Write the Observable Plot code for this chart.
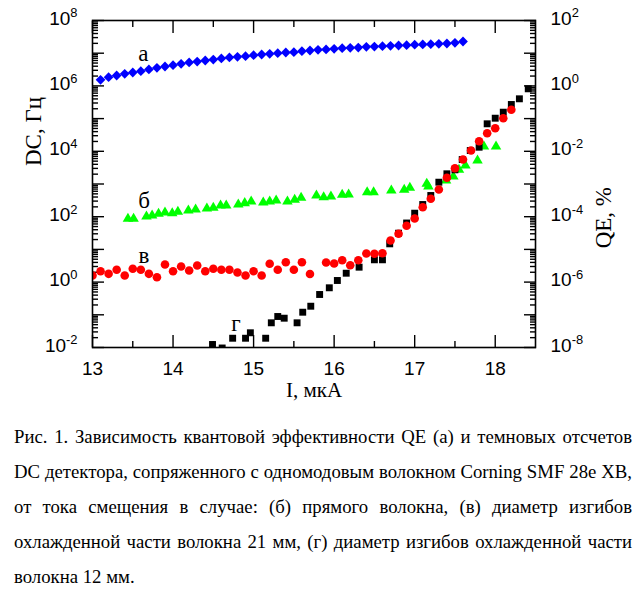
<!DOCTYPE html>
<html><head><meta charset="utf-8">
<script src="https://cdn.jsdelivr.net/npm/d3@7"></script>
<script src="https://cdn.jsdelivr.net/npm/@observablehq/plot@0.6"></script>
<style>
body{margin:0;background:#fff;}
#chart svg{display:block;}
#cap{width:618px;margin:14px 0 0 14px;font-family:"Liberation Serif","Times New Roman",serif;font-size:19.5px;line-height:35px;color:#000;}
#cap div{text-align:justify;text-align-last:justify;white-space:nowrap;}
#cap div.last{text-align-last:left;}
</style></head><body>
<div id="chart"></div>
<div id="cap"></div>
<script>
// (а) QE, % — blue diamonds
const blueI = [13.1,13.2,13.3,13.4,13.5,13.6,13.7,13.8,13.9,14.0,14.1,14.2,14.3,14.4,14.5,14.6,14.7,14.8,14.9,15.0,15.1,15.2,15.3,15.4,15.5,15.6,15.7,15.8,15.9,16.0,16.1,16.2,16.3,16.4,16.5,16.6,16.7,16.8,16.9,17.0,17.1,17.2,17.3,17.4,17.5,17.6];
const blueQE = [1.54,1.85,2.08,2.34,2.57,2.82,3.18,3.58,3.92,4.30,4.74,5.20,5.57,5.98,6.41,6.89,7.40,7.76,8.09,8.69,9.12,9.59,10.0,10.5,10.7,11.5,12.1,12.7,13.0,13.6,14.2,14.6,14.9,15.7,16.0,16.4,16.8,17.2,17.6,18.2,18.5,18.8,19.4,19.8,20.8,22.8];
// (б) straight fibre — green triangles, DC Hz
const greenI = [13.44,13.51,13.67,13.74,13.82,13.90,13.99,14.06,14.19,14.28,14.42,14.50,14.59,14.66,14.81,14.89,14.97,15.12,15.20,15.28,15.42,15.51,15.59,15.78,15.87,15.96,16.10,16.18,16.41,16.49,16.71,16.87,16.94,17.15,17.17,17.39,17.48,17.55,17.63,17.78,17.86,18.01];
const greenDC = [86,86,101,109,123,134,128,141,155,166,178,187,220,220,236,259,292,272,292,313,292,329,378,445,394,415,468,478,561,561,632,665,766,1014,839,1279,1694,2716,3681,5236,14030,14030];
// (в) bend 21 mm — red circles, DC Hz
const redI = [13.0,13.1,13.2,13.3,13.4,13.5,13.6,13.7,13.8,13.9,14.0,14.1,14.2,14.3,14.4,14.5,14.6,14.7,14.8,14.9,15.0,15.1,15.2,15.3,15.4,15.5,15.6,15.7,15.9,16.0,16.1,16.2,16.3,16.4,16.5,16.6,16.7,16.8,16.9,17.0,17.1,17.2,17.3,17.4,17.5,17.6,17.7,17.8,17.9,18.0,18.1,18.2];
const redDC = [1.59,2.15,1.79,2.38,1.59,2.55,2.38,1.79,1.41,3.45,2.15,3.00,2.26,3.22,2.15,2.55,2.38,2.38,1.97,1.59,2.15,1.59,3.63,2.38,4.06,2.38,4.06,1.77,3.97,3.71,4.68,3.29,4.68,7.50,7.33,7.65,18.7,30.0,52.7,88,195,355,679,1549,3041,5610,10570,20370,35800,50800,102800,185800];
// (г) bend 12 mm — black squares, DC Hz
const blackI = [14.49,14.61,14.74,14.90,14.96,15.15,15.22,15.30,15.38,15.54,15.61,15.71,15.82,15.94,16.04,16.15,16.31,16.50,16.60,16.69,16.80,16.90,17.00,17.10,17.20,17.30,17.40,17.50,17.59,17.69,17.80,17.90,18.00,18.10,18.20,18.30,18.41];
const blackDC = [0.01236,0.00966,0.0192,0.0192,0.0282,0.0192,0.0569,0.0887,0.0787,0.0569,0.120,0.183,0.418,0.670,1.12,1.87,2.86,4.81,4.81,14.8,31.3,64.1,128,236,445,1135,2050,2716,5610,10570,13340,69300,102800,157000,270000,403000,815000];

// series labels
const seriesLabels = ["а","б","в","г"];
const labelI = [13.63,13.64,13.64,14.78];
const labelDC = [9.8e6,313,6.5,0.054];

// ticks
const xMajor = [13,14,15,16,17,18];
const xMinor = [13.5,14.5,15.5,16.5,17.5];
const yMajor = [1e-2,1e-1,1,1e1,1e2,1e3,1e4,1e5,1e6,1e7,1e8];
const yLabeled = [1e-2,1,1e2,1e4,1e6,1e8];
const minorMult = [2,3,4,5,6,7,8,9];
const yMinor = yMajor.slice(0,-1).flatMap(d => minorMult.map(m => m*d));
const qeOffset = 6; // QE% = DC * 1e-6

const xTitle = "I, мкА", yTitle = "DC, Гц", y2Title = "QE, %";
const captionLines = [
 "Рис. 1. Зависимость квантовой эффективности QE (а) и темновых отсчетов",
 "DC детектора, сопряженного с одномодовым волокном Corning SMF 28e XB,",
 "от тока смещения в случае: (б) прямого волокна, (в) диаметр изгибов",
 "охлажденной части волокна 21 мм, (г) диаметр изгибов охлажденной части",
 "волокна 12 мм."
];

const blue = blueI.map((x,i)=>({x, y: blueQE[i]*Math.pow(10,qeOffset)}));
const green = greenI.map((x,i)=>({x, y: greenDC[i]}));
const red = redI.map((x,i)=>({x, y: redDC[i]}));
const black = blackI.map((x,i)=>({x, y: blackDC[i]}));
const labels = seriesLabels.map((t,i)=>({t, x: labelI[i], y: labelDC[i]}));

const serif = "'Liberation Serif', 'Times New Roman', serif";
const expFmt = off => d => "10^" + (Math.round(Math.log10(d)) - off);
const tickStyle = {stroke:"black", strokeWidth:1.4, fill:null, label:null};
const lblStyle = {tickSize:0, fontSize:19, label:null, fill:"black"};

const chart = Plot.plot({
  width: 644, height: 405,
  marginLeft: 92, marginRight: 109, marginTop: 20, marginBottom: 58,
  style: {fontFamily: "'Liberation Sans', Arial, sans-serif", background: "white", color: "black", overflow: "visible"},
  x: {domain: [13, 18.5]},
  y: {type: "log", domain: [1e-2, 1e8]},
  marks: [
    Plot.axisY(yMajor, {anchor:"left", tickSize:-12, ...tickStyle}),
    Plot.axisY(yMinor, {anchor:"left", tickSize:-6, ...tickStyle}),
    Plot.axisY(yMajor, {anchor:"right", tickSize:-12, ...tickStyle}),
    Plot.axisY(yMinor, {anchor:"right", tickSize:-6, ...tickStyle}),
    Plot.axisX(xMajor, {anchor:"bottom", tickSize:-12, ...tickStyle}),
    Plot.axisX(xMinor, {anchor:"bottom", tickSize:-6, ...tickStyle}),
    Plot.axisX(xMajor, {anchor:"top", tickSize:-12, ...tickStyle}),
    Plot.axisX(xMinor, {anchor:"top", tickSize:-6, ...tickStyle}),
    Plot.axisY(yLabeled, {anchor:"left", tickPadding:15, tickFormat: expFmt(0), dy:-2, ...lblStyle}),
    Plot.axisY(yLabeled, {anchor:"right", tickPadding:15, tickFormat: expFmt(qeOffset), dy:-2, ...lblStyle}),
    Plot.axisX(xMajor, {anchor:"bottom", tickPadding:14, tickFormat: d => String(d), ...lblStyle}),
    Plot.dot(blue, {x:"x", y:"y", symbol:"diamond2", r:4.4, fill:"#0000ff", stroke:null, clip:true}),
    Plot.dot(green, {x:"x", y:"y", symbol:"triangle", r:3.9, fill:"#00ff00", stroke:null, clip:true}),
    Plot.dot(black, {x:"x", y:"y", symbol:"square", r:3.9, fill:"#000000", stroke:null, clip:true}),
    Plot.dot(red, {x:"x", y:"y", symbol:"circle", r:4.3, fill:"#ff0000", stroke:null, clip:true}),
    Plot.text(labels, {x:"x", y:"y", text:"t", fontSize:23, fontFamily:serif, fill:"black"}),
    Plot.text([yTitle], {frameAnchor:"left", dx:-59, dy:-18, rotate:-90, fontSize:23, fontFamily:serif, fill:"black"}),
    Plot.text([y2Title], {frameAnchor:"right", dx:68, dy:3, rotate:-90, fontSize:23, fontFamily:serif, fill:"black"}),
    Plot.text([xTitle], {frameAnchor:"bottom", dy:49, fontSize:21, fontFamily:serif, fill:"black"}),
    Plot.frame({stroke:"black", strokeWidth:1.6})
  ]
});

const NS = "http://www.w3.org/2000/svg";
chart.querySelectorAll("text").forEach(t => {
  const m = /^10\^(-?\d+)$/.exec(t.textContent);
  if (m) {
    t.textContent = "10";
    const ts = document.createElementNS(NS, "tspan");
    ts.setAttribute("dy", "-0.55em");
    ts.setAttribute("font-size", "0.68em");
    ts.textContent = m[1];
    t.appendChild(ts);
  }
});
document.getElementById("chart").appendChild(chart);

const cap = document.getElementById("cap");
captionLines.forEach((s,i) => {
  const d = document.createElement("div");
  d.textContent = s;
  if (i === captionLines.length-1) d.className = "last";
  cap.appendChild(d);
});
// fit: shrink font if any line is wider than the column
const probe = document.createElement("span");
probe.style.cssText = "position:absolute;visibility:hidden;white-space:nowrap;font:inherit";
cap.appendChild(probe);
let maxW = 0;
captionLines.forEach(s => { probe.textContent = s; maxW = Math.max(maxW, probe.getBoundingClientRect().width); });
cap.removeChild(probe);
if (maxW > 616) cap.style.fontSize = (19.5 * 616 / maxW).toFixed(2) + "px";
</script>
</body></html>
